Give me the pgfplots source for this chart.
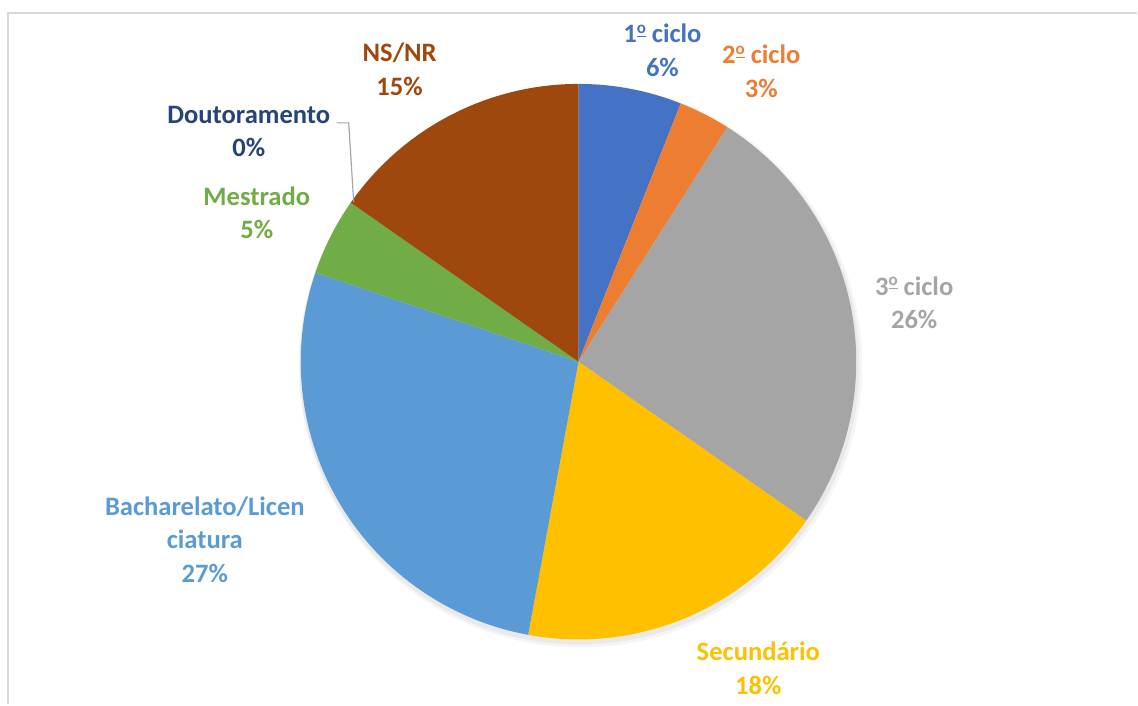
\documentclass[border=0pt]{standalone}
\usepackage{pgfplots}
\pgfplotsset{compat=1.18}
\usepackage{fontspec}
\setmainfont{Carlito}

\definecolor{c1}{HTML}{4472C4}
\definecolor{c2}{HTML}{ED7D31}
\definecolor{c3}{HTML}{A5A5A5}
\definecolor{c4}{HTML}{FFC000}
\definecolor{c5}{HTML}{5B9BD5}
\definecolor{c6}{HTML}{70AD47}
\definecolor{c7}{HTML}{264478}
\definecolor{c8}{HTML}{9E480E}
\definecolor{frame}{HTML}{D9D9D9}

% pie centre (579,343), radius 278, in pixel units of the axis
% #1 share before this slice (%), #2 share of this slice (%), #3 colour
\newcommand{\slice}[3]{%
  \edef\temp{\noexpand\addplot[fill=#3, draw=none, domain={90-3.6*(#1+#2)}:{90-3.6*(#1)},
    samples=90, variable=\noexpand\t]
    ({579+278*cos(\noexpand\t)},{343+278*sin(\noexpand\t)}) -- (axis cs:579,343) -- cycle;}%
  \temp}
% ordinal indicator with its bar, as Calibri draws it
\newcommand{\ord}{\raisebox{0.36em}{\fontsize{8.5}{8}\selectfont\bfseries\underline{o}}}

\begin{document}
\begin{tikzpicture}
\begin{axis}[
  width=569pt, height=352.5pt, scale only axis,
  xmin=0, xmax=1138, ymin=0, ymax=705,
  hide axis, clip=false,
]
\path (axis cs:0,0) rectangle (axis cs:1138,705);
\draw[frame, line width=1pt] (axis cs:8,0) -- (axis cs:8,692) -- (axis cs:1138,692);

% soft shadow under the pie
\fill[black, opacity=0.04] (axis cs:581,339) circle[radius=141pt];
\fill[black, opacity=0.05] (axis cs:580,340) circle[radius=140pt];

% shares in percent, clockwise from 12 o'clock
\slice{0}{6.0}{c1}      % 1º ciclo
\slice{6.0}{3.0}{c2}    % 2º ciclo
\slice{9.0}{25.7}{c3}   % 3º ciclo
\slice{34.7}{18.2}{c4}  % Secundário
\slice{52.9}{27.3}{c5}  % Bacharelato/Licenciatura
\slice{80.2}{4.5}{c6}   % Mestrado
% Doutoramento: 0.0, nothing to fill
\slice{84.7}{15.3}{c8}  % NS/NR

\draw[gray!70, line width=0.6pt] (axis cs:337,582) -- (axis cs:349,582) -- (axis cs:354,503);

\begin{scope}[every node/.style={font=\fontsize{13.3}{16.8}\selectfont\bfseries, align=center}]
\node[c1] at (axis cs:663,654.5) {1\ord{} ciclo\\6\%};
\node[c2] at (axis cs:762,633.5) {2\ord{} ciclo\\3\%};
\node[c3] at (axis cs:915,402) {3\ord{} ciclo\\26\%};
\node[c4] at (axis cs:759,36) {Secundário\\18\%};
\node[c5] at (axis cs:205,165) {Bacharelato/Licen\\ciatura\\27\%};
\node[c6] at (axis cs:257,492) {Mestrado\\5\%};
\node[c7] at (axis cs:249,573.5) {Doutoramento\\0\%};
\node[c8] at (axis cs:400,635.5) {NS/NR\\15\%};
\end{scope}
\end{axis}
\end{tikzpicture}
\end{document}
